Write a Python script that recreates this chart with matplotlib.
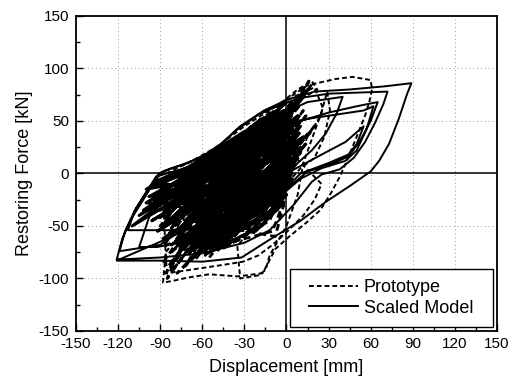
import numpy as np
import matplotlib
matplotlib.use("Agg")
import matplotlib.pyplot as plt
from matplotlib.patches import Rectangle
from matplotlib.ticker import MultipleLocator

plt.rcParams['font.family'] = ['Liberation Sans', 'DejaVu Sans']
plt.rcParams['axes.unicode_minus'] = False

# Scaled model: outer cycles (displacement mm, force kN)
model_outer = [
    (-40, -20), (-60, -40), (-90, -68), (-119, -74),
    (-115, -55), (-108, -35), (-100, -18), (-92, -4), (-88, 2), (-75, 8), (-60, 16), (-48, 26),
    (-35, 42), (-20, 56), (-5, 65), (10, 72), (30, 76), (50, 77), (72, 78),
    (69, 66), (63, 48), (56, 30), (48, 15), (38, 4), (25, -1), (18, -8), (5, -30), (-12, -54),
    (-30, -66), (-60, -76), (-90, -80), (-121, -82),
    (-117, -62), (-111, -44), (-103, -27), (-96, -12), (-91, 0), (-82, 5), (-70, 10), (-58, 18),
    (-46, 29), (-33, 45), (-16, 60), (0, 70), (20, 78), (45, 80), (70, 83), (89, 86),
    (86, 76), (80, 52), (73, 28), (66, 12), (60, 2), (45, -12), (28, -27), (10, -45), (-12, -63),
    (-32, -80), (-60, -84), (-90, -83), (-121, -83),
    (-90, -65), (-62, -48), (-35, -25), (-10, 5),
    (10, 50), (30, 58), (50, 64), (65, 68),
    (60, 50), (52, 30), (44, 16), (30, 8), (15, 2), (0, -15), (-20, -35), (-50, -52), (-85, -54),
    (-113, -54),
    (-108, -35), (-100, -18), (-93, -3), (-70, 6), (-40, 20), (-10, 45),
    (15, 52), (35, 56), (55, 60), (62, 64),
    (57, 42), (50, 22), (42, 12), (25, 5), (10, -5), (-10, -28), (-40, -55), (-70, -64), (-92, -70),
    (-105, -70),
    (-100, -50), (-95, -30), (-88, -10), (-70, 4), (-40, 22), (-15, 50),
    (15, 68), (40, 73),
    (36, 58), (28, 38), (18, 22), (8, 10), (-5, -10), (-25, -40), (-55, -62),
    (-30, -30), (0, 0), (25, 18), (42, 30), (55, 45),
    (50, 28), (44, 18), (30, 10), (10, 0), (-5, -20),
]

# Scaled model: small inner cycles (neg peak, pinch, pos peak, pinch)
model_inner = [
    (-95, -12), (-60, 8), (-5, 62), (-30, 18),
    (-90, -35), (-55, 2), (5, 66), (-25, 12),
    (-85, -48), (-50, -5), (8, 55), (-20, 5),
    (-80, -58), (-45, -8), (10, 45), (-15, 0),
    (-75, -66), (-40, -12), (12, 35), (-10, -5),
    (-68, -70), (-35, -15), (10, 25), (-8, -10),
    (-60, -73), (-30, -20), (8, 15), (-10, -20),
    (-52, -72), (-25, -22), (5, 5), (-15, -28),
    (-45, -68), (-20, -18), (4, -5), (-20, -35),
    (-92, -20), (-65, 4), (-10, 58), (-40, 20),
    (-88, -28), (-62, 0), (-18, 52), (-45, 18),
    (-86, -42), (-58, -4), (-25, 45), (-50, 12),
    (-82, -52), (-52, -8), (0, 50), (-30, 8),
    (-78, -62), (-48, -15), (3, 40), (-25, 0),
    (-72, -68), (-42, -18), (6, 30), (-20, -8),
    (-65, -72), (-38, -22), (2, 20), (-18, -15),
    (-58, -74), (-32, -25), (0, 10), (-22, -25),
    (-94, -8), (-70, 6), (-30, 40), (-55, 14),
    (-90, -30), (-60, -2), (-8, 50), (-35, 10),
    (-84, -45), (-55, -10), (4, 58), (-28, 15),
    (-78, -55), (-46, -12), (7, 48), (-22, 6),
    (-70, -64), (-40, -20), (9, 38), (-18, -2),
    (-62, -70), (-35, -25), (6, 28), (-15, -12),
    (-55, -68), (-28, -28), (3, 12), (-12, -22),
    (-48, -62), (-22, -25), (2, 0), (-10, -30),
    (-100, -28), (-70, -2), (-12, 55), (-40, 12),
    (-105, -40), (-72, -8), (-2, 60), (-35, 10),
    (-110, -50), (-75, -15), (6, 52), (-30, 4),
    (-98, -22), (-68, 0), (-20, 48), (-48, 14),
    (-102, -35), (-66, -12), (-5, 40), (-38, 2),
    (-96, -45), (-62, -18), (2, 35), (-30, -5),
    (-92, -55), (-58, -25), (5, 25), (-25, -12),
    (-88, -62), (-52, -30), (8, 18), (-20, -20),
    (-82, -68), (-48, -35), (6, 8), (-18, -28),
    (-76, -72), (-42, -40), (4, 0), (-15, -35),
    (-70, -74), (-38, -45), (2, -10), (-15, -42),
    (-64, -76), (-34, -48), (0, -20), (-18, -50),
    (-56, -76), (-30, -50), (-2, -28), (-22, -55),
    (-80, -30), (-55, -5), (-15, 42), (-42, 8),
    (-75, -40), (-50, -10), (-8, 38), (-35, 0),
    (-70, -50), (-45, -15), (0, 30), (-30, -8),
    (-65, -58), (-40, -22), (5, 20), (-25, -15),
    (-60, -62), (-35, -30), (3, 10), (-20, -22),
    (-85, -20), (-62, 2), (-22, 38), (-50, 10),
    (-92, -10), (-72, 4), (-38, 32), (-60, 10),
    (-78, -10), (-58, 8), (-28, 35), (-50, 15),
    (-68, -30), (-48, 0), (-12, 48), (-38, 12),
    (-95, -25), (-75, -5), (-40, 25), (-65, 0),
    (-90, -42), (-70, -15), (-35, 20), (-60, -5),
    (-100, -15), (-80, 0), (-50, 18), (-70, -8),
    (-88, -50), (-68, -25), (-30, 15), (-55, -15),
]

# Prototype: outer cycles
proto_outer = [
    (-60, -30), (-86, -75), (-88, -104), (-80, -102), (-70, -99), (-55, -96), (-35, -98),
    (-17, -95), (-13, -85), (-8, -72), (2, -60), (14, -47), (24, -35), (32, -18), (38, -3),
    (43, 12), (50, 35), (56, 55), (59, 68), (61, 80), (60, 89), (47, 92), (35, 90), (25, 87),
    (15, 84), (5, 75), (-10, 62), (-30, 45), (-50, 25), (-70, 10), (-86, 0),
    (-88, -20), (-87, -50), (-86, -80), (-85, -95), (-70, -92), (-60, -90), (-45, -87),
    (-31, -84), (-20, -78), (-10, -68), (0, -56), (12, -40), (20, -25), (25, -10),
    (8, 13), (15, 35), (24, 54), (29, 78),
    (31, 60), (27, 35), (20, 15), (10, 5), (0, -10), (-20, -40), (-35, -70), (-33, -100),
    (-20, -97), (-15, -92), (-12, -78), (0, -50), (8, -20), (12, 10), (20, 40), (26, 62),
    (20, 82), (10, 76), (-5, 66), (8, 80), (18, 88), (22, 80), (12, 72), (0, 60), (-20, 40),
]

# Prototype: small inner cycles
proto_inner = [
    (-88, -85), (-55, -20), (5, 70), (-25, 10),
    (-86, -95), (-50, -25), (15, 80), (-20, 15),
    (-80, -90), (-45, -30), (10, 75), (-30, 5),
    (-72, -88), (-40, -30), (18, 85), (-15, 20),
    (-65, -82), (-35, -28), (12, 60), (-20, 0),
    (-58, -78), (-30, -30), (20, 45), (-10, -5),
    (-50, -75), (-25, -30), (15, 30), (-15, -15),
    (-42, -70), (-20, -28), (10, 20), (-18, -25),
    (-88, -70), (-60, -15), (-5, 65), (-40, 15),
    (-85, -60), (-58, -10), (0, 68), (-35, 18),
    (-78, -80), (-52, -22), (8, 72), (-28, 12),
    (-70, -78), (-45, -25), (14, 55), (-22, 5),
    (-62, -74), (-38, -22), (18, 40), (-15, -2),
    (-55, -70), (-32, -25), (12, 25), (-12, -12),
    (-90, -50), (-62, -5), (-12, 58), (-45, 20),
    (-85, -100), (-50, -35), (16, 88), (-10, 30),
    (-82, -75), (-48, -35), (5, 50), (-25, -5),
    (-76, -70), (-44, -40), (10, 40), (-20, -15),
    (-68, -66), (-40, -45), (8, 30), (-18, -25),
    (-60, -65), (-36, -50), (5, 15), (-15, -35),
    (-52, -60), (-30, -52), (2, 0), (-12, -45),
    (-46, -72), (-28, -58), (0, -20), (-10, -55),
    (-38, -65), (-22, -50), (-2, -30), (-8, -60),
    (-90, -40), (-65, -10), (-20, 50), (-50, 18),
    (-75, -55), (-50, -20), (2, 62), (-30, 15),
    (-66, -60), (-44, -28), (10, 66), (-24, 20),
    (-84, -88), (-62, -50), (-30, -30), (-50, -60),
    (-78, -95), (-60, -70), (-40, -55), (-55, -80),
]

x_ticks = np.arange(-150, 151, 30)
y_ticks = np.arange(-150, 151, 50)

m_out = np.array(model_outer)
m_in = np.array(model_inner)
p_out = np.array(proto_outer)
p_in = np.array(proto_inner)

fig = plt.figure(figsize=(5.09, 3.86), dpi=100)
ax = fig.add_axes([0.1493, 0.1425, 0.8271, 0.8161])

ax.grid(True, color='#9a9a9a', linestyle=(0, (1, 3)), linewidth=0.7, zorder=0)
ax.axhline(0, color='black', linewidth=1.1, zorder=2)
ax.axvline(0, color='black', linewidth=1.1, zorder=2)

dash = (0, (2.5, 1.5))
ax.plot(p_out[:, 0], p_out[:, 1], color='black', linewidth=1.4, linestyle=dash,
        label='Prototype', zorder=3)
ax.plot(p_in[:, 0], p_in[:, 1], color='black', linewidth=2.0, linestyle=dash, zorder=3)
ax.plot(m_out[:, 0], m_out[:, 1], color='black', linewidth=1.4, linestyle='-',
        label='Scaled Model', zorder=3)
ax.plot(m_in[:, 0], m_in[:, 1], color='black', linewidth=2.2, linestyle='-', zorder=3)

ax.set_xlim(-150, 150)
ax.set_ylim(-150, 150)
ax.set_xticks(x_ticks)
ax.set_yticks(y_ticks)
ax.xaxis.set_minor_locator(MultipleLocator(15))
ax.yaxis.set_minor_locator(MultipleLocator(25))
ax.tick_params(which='both', direction='in', labelsize=11)
ax.tick_params(which='major', length=5, width=1)
ax.tick_params(which='minor', length=3, width=1)
ax.tick_params(axis='x', pad=4)
ax.tick_params(axis='y', pad=5)
for sp in ax.spines.values():
    sp.set_linewidth(1.3)

ax.set_xlabel('Displacement [mm]', fontsize=13, labelpad=6)
ax.set_ylabel('Restoring Force [kN]', fontsize=13, labelpad=4)

# legend box drawn separately so the horizontal padding can be wider
box = Rectangle((0.508, 0.013), 0.482, 0.184, transform=ax.transAxes,
                facecolor='white', edgecolor='black', linewidth=1.0, zorder=4)
ax.add_patch(box)
leg = ax.legend(loc='center', bbox_to_anchor=(0.749, 0.105), frameon=False,
                fontsize=13, handlelength=2.7, handletextpad=0.3, labelspacing=0.2,
                borderpad=0)
leg.set_zorder(5)

fig.savefig('out.png', dpi=100)
